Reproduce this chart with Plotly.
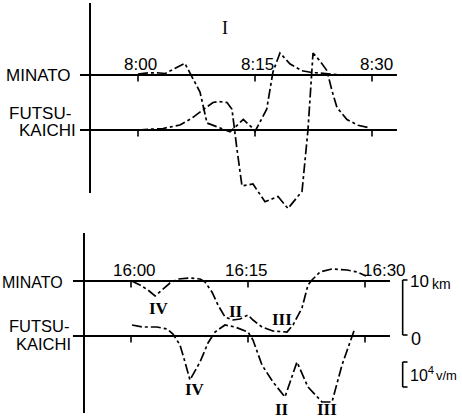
import plotly.graph_objects as go

# ---------------------------------------------------------------------------
# Field records (kV/m) against minutes after the hour mark of each panel
# ---------------------------------------------------------------------------
# Panel I, 08:00-08:30
am_minato_t = [0.0, 1.5, 2.8, 3.5, 6.0, 7.95, 8.85, 10.5, 11.8, 13.5, 14.6, 15.0,
               16.5, 17.3, 18.2, 19.5, 21.0, 22.3, 24.2, 25.9]
am_minato_e = [0.4, 0.9, 0.8, 0.6, 4.7, -6.8, -19.2, -21.1, -22.7, -17.8, -21.0, -22.6,
               -13.7, 1.2, 8.8, 4.4, 1.7, 1.0, 0.6, 0.1]

am_futsu_t = [0.0, 1.54, 3.21, 5.38, 6.92, 8.33, 9.62, 10.26, 11.41, 11.79, 12.05, 12.69,
              13.33, 14.74, 16.28, 17.95, 19.23, 21.03, 21.79, 22.44, 23.33, 24.23, 24.87,
              25.51, 26.79, 28.21, 29.74]
am_futsu_e = [0.0, 0.2, 0.6, 2.0, 4.8, 8.1, 11.0, 11.4, 11.0, 9.4, 8.3, -7.7,
              -22.4, -21.6, -28.7, -26.6, -31.4, -24.5, 0.0, 30.8, 27.6, 23.7, 15.7,
              9.0, 4.2, 1.9, 0.8]

# Lower panel, 16:00-16:30
pm_minato_t = [0.09, 1.15, 2.18, 3.08, 3.97, 5.0, 6.03, 7.56, 8.85, 9.49, 10.38, 11.15,
               12.05, 13.08, 13.97, 15.0, 15.64, 16.79, 18.2, 20.0, 20.77, 21.92, 22.69,
               23.2, 24.23, 25.77, 27.69, 28.97, 30.13]
pm_minato_e = [0.0, -1.6, -3.6, -6.0, -3.6, -0.8, 0.8, 1.2, 0.8, -0.4, -4.4, -9.6,
               -14.4, -15.6, -15.2, -13.6, -15.6, -18.4, -20.0, -20.4, -17.6, -10.8, -1.6,
               0.4, 3.6, 4.8, 4.4, 3.6, 2.0]

pm_futsu_t = [0.13, 1.54, 3.33, 4.62, 5.38, 6.28, 6.92, 7.56, 8.85, 9.87, 10.77, 12.05,
              13.33, 15.0, 15.64, 16.79, 18.2, 19.74, 21.28, 22.69, 24.49, 25.77, 27.05,
              28.72]
pm_futsu_e = [4.4, 3.6, 3.6, 2.8, 0.8, -3.6, -10.4, -17.6, -10.4, -2.8, 1.6, 4.4,
              3.6, 1.6, -1.6, -11.6, -18.4, -24.4, -10.4, -20.4, -26.4, -26.4, -11.6,
              3.2]

# Time ticks
tick_min = [0, 15, 30]
am_tick_text = ["8:00", "8:15", "8:30"]
pm_tick_text = ["16:00", "16:15", "16:30"]

# Stroke labels on the afternoon record: (text, minute, field level)
pm_stroke_labels = [
    ("IV", 3.6, -10.8),
    ("IV", 8.2, -43.2),
    ("II", 13.5, -12.0),
    ("III", 19.4, -15.2),
    ("II", 19.4, -51.2),
    ("III", 25.1, -51.2),
]

# ---------------------------------------------------------------------------
# Layout constants
# ---------------------------------------------------------------------------
FUTSU_OFFSET = -22.0          # Futsukaichi trace is drawn below the Minato one
BASE_START, BASE_END = -7.44, 33.2
TICK_LEN = 2.6
AXIS_AM = (-6.15, 28.8, -47.2)   # x, y top, y bottom of the vertical rule
AXIS_PM = (-6.03, 19.2, -52.8)
INK = "black"
DASH = "10px,3px,3px,3px"
SANS = "Liberation Sans, Arial, sans-serif"
SERIF = "Liberation Serif, DejaVu Serif, serif"

fig = go.Figure()


def curve(t, e, offset, xa, ya):
    fig.add_trace(go.Scatter(
        x=t, y=[v + offset for v in e], mode="lines",
        line=dict(color=INK, width=1.7, dash=DASH),
        xaxis=xa, yaxis=ya, showlegend=False, hoverinfo="skip"))


curve(am_minato_t, am_minato_e, 0.0, "x", "y")
curve(am_futsu_t, am_futsu_e, FUTSU_OFFSET, "x", "y")
curve(pm_minato_t, pm_minato_e, 0.0, "x2", "y2")
curve(pm_futsu_t, pm_futsu_e, FUTSU_OFFSET, "x2", "y2")

shapes = []
annotations = []


def line(xr, yr, x0, y0, x1, y1, width=1.8):
    shapes.append(dict(type="line", xref=xr, yref=yr, x0=x0, y0=y0, x1=x1, y1=y1,
                       line=dict(color=INK, width=width)))


def text(xr, yr, x, y, s, size=17, xanchor="center", yanchor="middle",
         family=SANS, xshift=0, yshift=0):
    annotations.append(dict(xref=xr, yref=yr, x=x, y=y, text=s, showarrow=False,
                            xanchor=xanchor, yanchor=yanchor, xshift=xshift,
                            yshift=yshift, font=dict(family=family, size=size,
                                                     color=INK)))


for xr, yr, axis, labels, label_shift in (
        ("x", "y", AXIS_AM, am_tick_text, [2, 2, 4]),
        ("x2", "y2", AXIS_PM, pm_tick_text, [3, -2, 19])):
    ax, ay0, ay1 = axis
    line(xr, yr, ax, ay0, ax, ay1, width=2)
    for base in (0.0, FUTSU_OFFSET):
        line(xr, yr, BASE_START, base, BASE_END, base)
        for m in tick_min:
            line(xr, yr, m, base, m, base - TICK_LEN, width=1.6)
    for m, s, dx in zip(tick_min, labels, label_shift):
        text(xr, yr, m, 0.0, s, yanchor="bottom", xshift=dx, yshift=-1)

# Station names
text("x", "y", -8.3, 0.0, "MINATO", xanchor="right")
text("x", "y", -8.3, -15.2, "FUTSU-", xanchor="right")
text("x", "y", -7.7, -22.0, "KAICHI", xanchor="right")
text("x2", "y2", -8.4, -0.6, "MINATO", xanchor="right", size=16)
text("x2", "y2", -7.6, -17.8, "FUTSU-", xanchor="right", size=16.5)
text("x2", "y2", -7.4, -25.0, "KAICHI", xanchor="right", size=16.5)

# Panel numeral
text("x", "y", 11.15, 18.8, "I", size=18, family=SERIF)

for s, m, v in pm_stroke_labels:
    text("x2", "y2", m, v, "<b>" + s + "</b>", size=17, family=SERIF)

# Distance scale bracket (10 km spans the two baselines)
sx, arm = 34.83, 0.62
line("x2", "y2", sx, 0.4, sx, FUTSU_OFFSET + 0.4, width=1.6)
line("x2", "y2", sx, 0.4, sx + arm, 0.4, width=1.6)
line("x2", "y2", sx, FUTSU_OFFSET + 0.4, sx + arm, FUTSU_OFFSET + 0.4, width=1.6)
text("x2", "y2", sx + arm, -0.2, "10", xanchor="left", size=17)
text("x2", "y2", 38.3, -1.0, "km", xanchor="left", size=14)
text("x2", "y2", sx + 0.8, -23.0, "0", xanchor="left", size=18)

# Field scale bracket (10 kV/m)
fy0, fy1 = -32.4, -42.4
line("x2", "y2", sx, fy0, sx, fy1, width=1.6)
line("x2", "y2", sx, fy0, sx + arm, fy0, width=1.6)
line("x2", "y2", sx, fy1, sx + arm, fy1, width=1.6)
text("x2", "y2", sx + arm, -37.0, "10<sup>4</sup>", xanchor="left", size=16)
text("x2", "y2", 38.9, -37.8, "v/m", xanchor="left", size=13)

hidden = dict(visible=False, showgrid=False, zeroline=False, fixedrange=True)
fig.update_layout(
    width=462, height=420,
    margin=dict(l=0, r=0, t=0, b=0),
    paper_bgcolor="white", plot_bgcolor="rgba(0,0,0,0)",
    xaxis=dict(hidden, domain=[0, 1], range=[-17.692, 41.538]),
    yaxis=dict(hidden, domain=[0.45, 1], range=[-62.4, 30.0]),
    xaxis2=dict(hidden, domain=[0, 1], range=[-16.795, 42.436], anchor="y2"),
    yaxis2=dict(hidden, domain=[0, 0.5], range=[-55.6, 28.4], anchor="x2"),
    shapes=shapes,
    annotations=annotations,
)

fig.write_html("out.html")
